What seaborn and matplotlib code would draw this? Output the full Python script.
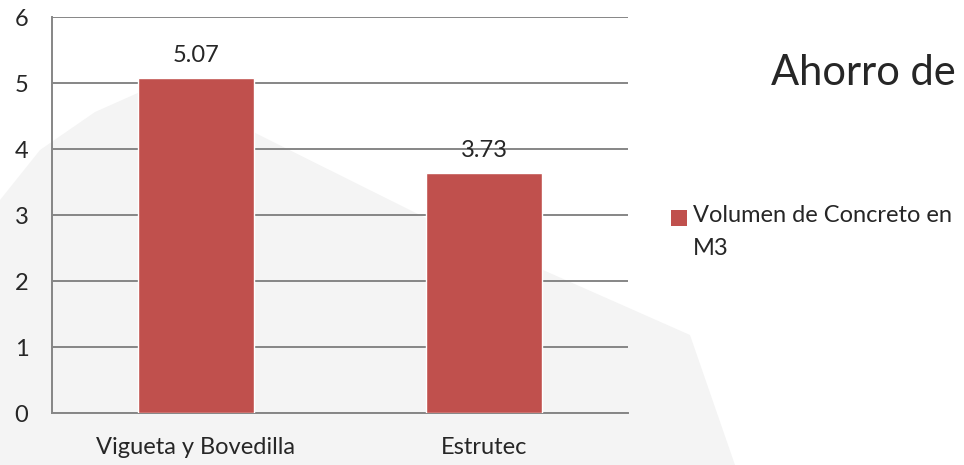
import matplotlib
matplotlib.use('Agg')
import matplotlib.pyplot as plt
import seaborn as sns
import pandas as pd
from matplotlib.patches import Polygon, Rectangle


categories = ['Vigueta y Bovedilla', 'Estrutec']
volumen = [5.07, 3.63]
etiquetas = ['5.07', '3.73']
serie = 'Volumen de Concreto en\nM3'
titulo = 'Ahorro de'
y_ticks = [0, 1, 2, 3, 4, 5, 6]

RED = '#C0504D'
GRID = '#868686'
FS = 17


def plot_chart():
    sns.set_style('white')
    plt.rcParams['font.family'] = ['Lato', 'DejaVu Sans']

    df = pd.DataFrame({'categoria': categories, 'volumen': volumen, 'serie': serie})

    fig = plt.figure(figsize=(9.64, 4.65), dpi=100)
    fig.patch.set_facecolor('white')
    W, H = 964, 465

    # background layer in pixel coords: watermark shape + legend
    bg = fig.add_axes([0, 0, 1, 1], zorder=-5)
    bg.set_xlim(0, W)
    bg.set_ylim(H, 0)
    bg.axis('off')
    pts = [(0, 200), (40, 150), (95, 112), (140, 92), (185, 98), (430, 220),
           (690, 335), (735, 465), (0, 465)]
    bg.add_patch(Polygon(pts, closed=True, facecolor='#f4f4f4', edgecolor='none'))

    ax = fig.add_axes([52 / W, 1 - 413 / H, (628 - 52) / W, (413 - 17) / H])
    ax.set_facecolor('none')

    sns.barplot(data=df, x='categoria', y='volumen', hue='serie', palette=[RED],
                width=0.4, saturation=1, ax=ax, legend=False, zorder=3)

    ax.bar_label(ax.containers[0], labels=etiquetas, padding=9, fontsize=FS)

    ax.set_ylim(0, 6)
    ax.set_xlim(-0.5, 1.5)
    ax.set_yticks(y_ticks)
    ax.set_xlabel('')
    ax.set_ylabel('')

    ax.yaxis.grid(True, color=GRID, linewidth=1.4, zorder=0)
    ax.set_axisbelow(True)
    for side in ['top', 'right']:
        ax.spines[side].set_visible(False)
    for side in ['left', 'bottom']:
        ax.spines[side].set_color(GRID)
        ax.spines[side].set_linewidth(1.4)

    ax.set_xticks([-0.5, 0.5, 1.5], minor=False)
    ax.set_xticklabels(['', '', ''])
    ax.set_xticks([0, 1], minor=True)
    ax.set_xticklabels(categories, minor=True, fontsize=FS)
    ax.tick_params(axis='x', which='major', length=6, width=1.4, color=GRID, direction='out')
    ax.tick_params(axis='x', which='minor', length=0, pad=17)
    ax.tick_params(axis='y', length=6, width=1.4, color=GRID, direction='out',
                   labelsize=FS, pad=11)

    fig.text(771 / W, 1 - 73 / H, titulo, fontsize=30, ha='left', va='center')

    # legend entry, first line aligned with the swatch
    bg.add_patch(Rectangle((671, 210), 16, 16, facecolor=RED, edgecolor='none'))
    bg.text(693, 205, serie, fontsize=FS, ha='left', va='top', linespacing=1.72)

    plt.savefig('out.png', dpi=100)


if __name__ == '__main__':
    plot_chart()
